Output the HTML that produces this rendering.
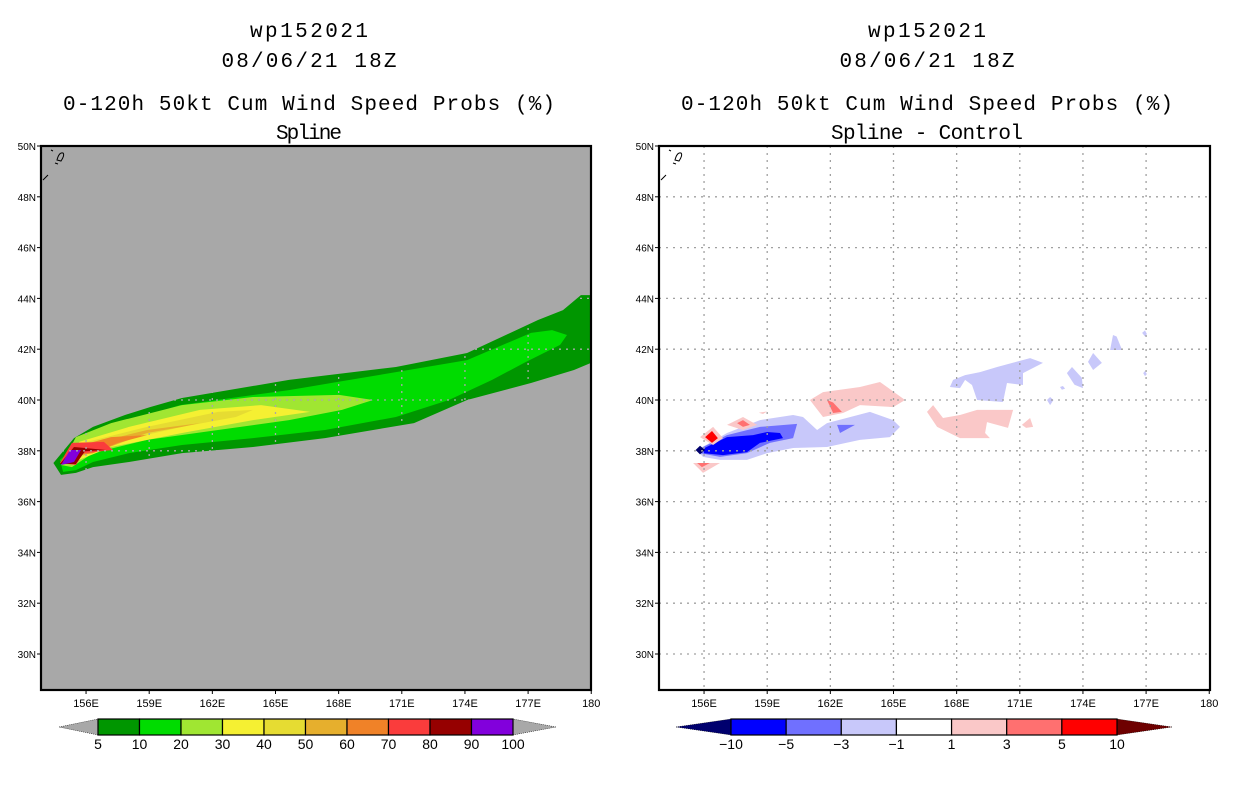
<!DOCTYPE html>
<html><head><meta charset="utf-8"><style>
html,body{margin:0;padding:0;background:#fff;}
svg{display:block;font-family:"Liberation Mono",monospace;}
</style></head><body>
<svg id="fig" width="1236" height="800" viewBox="0 0 1236 800" xmlns="http://www.w3.org/2000/svg">
<g id="titles"></g>
<defs>
<clipPath id="clipL"><rect x="41" y="146" width="550" height="544"/></clipPath>
<clipPath id="clipR"><rect x="659" y="146" width="551" height="544"/></clipPath>
</defs>
<g id="panelL"></g>
<g id="panelR"></g>
<g id="cbL"></g>
<g id="cbR"></g>
</svg>
<script>
// ---- data ----
const lonTicks = [156,159,162,165,168,171,174,177,180];
const lonTickLabels = ["156E","159E","162E","165E","168E","171E","174E","177E","180"];
const latTicks = [30,32,34,36,38,40,42,44,46,48,50];
const latTickLabels = ["30N","32N","34N","36N","38N","40N","42N","44N","46N","48N","50N"];
const probLevels = ["5","10","20","30","40","50","60","70","80","90","100"];
const probColors = ["#009600","#00dc00","#a0e632","#f5f032","#e6dc32","#e6af2d","#f08228","#fa3c3c","#960000","#8200dc"];
const diffLevels = ["-10","-5","-3","-1","1","3","5","10"];
const diffColors = ["#0000ff","#7070ff","#c8c8fa","#ffffff","#fac8c8","#ff7070","#ff0000"];
const diffLowColor = "#00006e", diffHighColor = "#6e0000";

// probability contour polygons: [colorIndex, lon,lat,...]
const prob5 = [0, 154.45,37.52,155.43,38.50,156.33,38.94,157.85,39.41,159.04,39.72,160.56,40.08,165.64,40.79,170.72,41.30,174.10,41.85,177.47,43.15,178.66,43.54,179.51,44.13,180.3,44.13,180.3,41.57,179.18,41.18,177.14,40.67,174.10,40.0,171.58,39.09,167.35,38.50,163.93,38.15,160.56,37.91,158.04,37.56,156.33,37.36,155.52,37.13,154.81,37.05];
const prob10 = [1, 154.76,37.64,155.62,38.27,156.52,38.70,158.09,39.21,160.46,39.80,165.64,40.39,170.72,41.10,174.10,41.57,177.14,42.64,178.14,42.75,178.85,42.56,178.52,42.17,176.81,41.46,175.29,40.79,173.24,40.0,170.72,39.33,167.35,38.82,163.93,38.50,160.56,38.23,158.04,37.91,156.33,37.56,155.52,37.24,154.91,37.17];
const prob20 = [2, 155.52,38.54,157.19,39.09,160.56,39.80,163.93,40.12,168.02,40.20,169.63,40.0,168.16,39.61,165.64,39.21,162.27,38.82,158.90,38.43,156.33,37.91,155.33,37.36,154.81,37.44];
const prob30 = [3, 155.67,38.35,158.04,38.94,161.41,39.61,164.31,39.80,166.64,39.53,163.93,39.21,160.56,38.70,157.19,38.15,155.67,37.64,155.2,37.6];
const prob40 = [4, 155.86,38.31,158.90,38.94,162.27,39.53,163.93,39.61,163.12,39.33,160.56,38.94,157.19,38.31,155.67,37.72];
const prob50 = [5, 156.0,38.23,158.90,38.82,161.41,39.09,160.56,38.94,158.90,38.70,156.33,37.91,155.9,37.85];
const prob60 = [6, 156.19,38.31,157.19,38.54,158.90,38.62,157.52,38.31,156.33,37.91,155.67,37.83];
const prob70 = [7, 155.33,38.31,156.85,38.35,157.28,38.03,155.86,37.91,155.52,37.44,154.76,37.52];
const prob80 = [8, 155.43,38.15,156.95,38.03,155.95,37.98,155.52,37.48,154.76,37.48];
const prob90 = [9, 155.24,38.03,155.76,38.03,155.43,37.56,154.81,37.44];
const probPolys = [prob5,prob10,prob20,prob30,prob40,prob50,prob60,prob70,prob80,prob90];

// difference contour polygons: [colorIndex(-1=low,7=high), lon,lat,...]
const diffA = [2, 155.67,38.03,156.28,38.31,157.09,38.70,158.66,39.21,160.23,39.41,160.70,39.33,161.37,38.82,161.84,39.09,163.88,39.53,164.98,39.21,165.31,38.94,164.83,38.54,163.41,38.43,161.84,38.15,160.23,38.11,159.0,37.91,158.04,37.64,156.76,37.64,155.95,37.76];
const diffB = [2, 167.68,40.51,167.83,40.79,168.40,40.98,169.11,41.10,169.92,41.30,171.49,41.65,172.10,41.46,171.15,41.06,171.15,40.59,170.39,40.67,170.20,39.92,168.97,40.0,168.73,40.59,168.40,40.79,168.16,40.47];
const diffC = [2, 173.24,41.06,173.48,41.30,173.95,40.87,174.0,40.47,173.6,40.6];
const diffD = [2, 174.24,41.50,174.48,41.85,174.90,41.46,174.48,41.18];
const diffE = [2, 175.29,41.97,175.43,42.56,175.6,42.5,175.86,41.97];
const diffF = [2, 176.81,42.64,176.95,42.74,177.04,42.60,176.95,42.50];
const diffG = [2, 176.86,41.06,176.95,41.14,177.04,41.02,176.95,40.94];
const diffH = [2, 172.29,40.0,172.44,40.12,172.6,40.0,172.44,39.80];
const diffI = [2, 172.91,40.51,173.05,40.55,173.15,40.45,173.0,40.40];
const diffJ = [1, 155.95,38.15,157.09,38.62,158.66,38.94,160.42,39.06,160.23,38.50,159.13,38.31,158.04,37.91,156.76,37.76,155.81,37.91];
const diffK = [1, 162.32,39.02,163.17,39.02,162.46,38.70];
const diffL = [0, 156.0,38.1,157.09,38.54,158.33,38.62,159.0,38.74,159.61,38.70,159.75,38.50,158.66,38.31,158.04,37.95,156.90,37.83,156.0,37.9];
const diffM = [-1, 155.6,38.03,155.81,38.2,156.05,38.03,155.81,37.86];
const diffN = [4, 161.03,40.0,161.65,40.31,163.41,40.51,164.36,40.71,165.55,40.0,164.98,39.72,163.41,39.80,162.60,39.49,161.65,39.33];
const diffO = [4, 166.59,39.53,166.88,39.80,167.35,39.29,168.16,39.41,168.97,39.61,170.68,39.61,170.44,38.90,169.44,39.13,169.35,38.70,169.58,38.50,168.16,38.50,167.07,38.94];
const diffP = [4, 171.10,39.02,171.49,39.29,171.63,38.94,171.3,38.9];
const diffQ = [4, 157.09,39.02,157.85,39.33,158.52,39.02,157.85,38.82];
const diffR = [4, 155.81,38.54,156.43,38.94,156.90,38.50,156.43,38.23];
const diffS = [4, 155.48,37.52,156.76,37.52,155.95,37.13];
const diffT = [4, 158.6,39.50,159.0,39.55,158.8,39.45];
const diffU = [5, 161.84,40.0,162.13,39.9,162.55,39.53,162.13,39.49];
const diffV = [5, 157.57,39.09,157.85,39.21,158.18,39.02,157.85,38.94];
const diffW = [5, 155.67,37.52,156.28,37.52,155.90,37.36];
const diffX = [6, 156.05,38.54,156.38,38.78,156.66,38.50,156.38,38.31];
const diffPolys = [diffA,diffB,diffC,diffD,diffE,diffF,diffG,diffH,diffI,diffJ,diffK,diffL,diffM,diffN,diffO,diffP,diffQ,diffR,diffS,diffT,diffU,diffV,diffW,diffX];

// ---- drawing ----
const NS = "http://www.w3.org/2000/svg";
const LON0 = 153.86, PXDEG = 21.05, LAT_TOP = 50, PXLAT = 25.4, YTOP = 146, YBOT = 690;
function xScale(lon, left){ return left + (lon - LON0) * PXDEG; }
function yScale(lat){ return YTOP + (LAT_TOP - lat) * PXLAT; }
function mk(tag, attrs, parent){
  const e = document.createElementNS(NS, tag);
  for (const k in attrs) e.setAttribute(k, attrs[k]);
  parent.appendChild(e); return e;
}
function txt(str, x, y, size, anchor, parent, extra){
  const t = mk("text", Object.assign({x:x, y:y, "font-size":size, "text-anchor":anchor, fill:"#000"}, extra||{}), parent);
  t.textContent = str; return t;
}
const titles = document.getElementById("titles");
[[309,"L"],[927,"R"]].forEach(([cx,s])=>{
  const sub = s==="L" ? "Spline" : "Spline - Control";
  const subW = s==="L" ? 66 : 192;
  let t;
  t = txt("wp152021", cx, 37, 21, "middle", titles, {textLength:118});  
  t = txt("08/06/21 18Z", cx, 67, 21, "middle", titles, {textLength:175});  
  t = txt("0-120h 50kt Cum Wind Speed Probs (%)", cx, 110, 21, "middle", titles, {textLength:492});  
  t = txt(sub, cx, 139, 21, "middle", titles, {textLength:subW});  
});

function panel(gid, left, width, bg, polys, colorFor, clip, gridColor){
  const g = document.getElementById(gid);
  const bgr = mk("rect", {x:left, y:YTOP, width:width, height:YBOT-YTOP, fill:bg}, g);
  
  
  const cg = mk("g", {"clip-path":"url(#"+clip+")"}, g);
  polys.forEach(p=>{
    const pts = [];
    for (let i=1;i<p.length;i+=2) pts.push(xScale(p[i],left).toFixed(1)+","+yScale(p[i+1]).toFixed(1));
    const pg = mk("polygon", {points:pts.join(" "), fill:colorFor(p[0])}, cg);
    
    
  });
  lonTicks.forEach(lon=>{ if (lon<180){ const x=xScale(lon,left);
    const l = mk("line",{x1:x,y1:YTOP,x2:x,y2:YBOT,stroke:gridColor,"stroke-width":1.3,"stroke-dasharray":"2,5"},cg);
      }});
  latTicks.forEach(lat=>{ if (lat<50){ const y=yScale(lat);
    const l = mk("line",{x1:left,y1:y,x2:left+width,y2:y,stroke:gridColor,"stroke-width":1.3,"stroke-dasharray":"2,5"},cg);
      }});
  const cst = mk("path",{d:"M"+(left+2)+" 180 l5 -5 M"+(left+10)+" 150 l2 1 M"+(left+14)+" 163 l3 1 M"+(left+16)+" 160 q2 -8 6 -7 q2 2 -2 8 z",fill:"none",stroke:"#000","stroke-width":1},g);
   
  const fr = mk("rect",{x:left,y:YTOP,width:width,height:YBOT-YTOP,fill:"none",stroke:"#000","stroke-width":2.2},g);
   
  lonTicks.forEach((lon,i)=>{ const x=xScale(lon,left);
    mk("line",{x1:x,y1:YBOT,x2:x,y2:YBOT+4,stroke:"#000","stroke-width":1},g);
    const t = txt(lonTickLabels[i], x, YBOT+17, 11, "middle", g, {"font-family":"Liberation Sans, sans-serif"});
      });
  latTicks.forEach((lat,i)=>{ const y=yScale(lat);
    mk("line",{x1:left-4,y1:y,x2:left,y2:y,stroke:"#000","stroke-width":1},g);
    const t = txt(latTickLabels[i], left-5, y+4, 10, "end", g, {"font-family":"Liberation Sans, sans-serif"});
      });
}
panel("panelL", 41, 550, "#a8a8a8", probPolys, i=>probColors[i], "clipL", "#a8a8a8");
panel("panelR", 659, 551, "#ffffff", diffPolys, i=> i<0?diffLowColor:(i>=7?diffHighColor:diffColors[i]), "clipR", "#a0a0a0");

function colorbar(gid, x0, x1, tipL, tipR, colors, labels, lowC, highC){
  const g = document.getElementById(gid);
  const y0=719, y1=735, ym=727, w=(x1-x0)/colors.length;
  const a = mk("polygon",{points:tipL+","+ym+" "+x0+","+y0+" "+x0+","+y1,fill:lowC,stroke:"#000","stroke-width":0.5,"stroke-dasharray":"1,1"},g);
   
  const b = mk("polygon",{points:tipR+","+ym+" "+x1+","+y0+" "+x1+","+y1,fill:highC,stroke:"#000","stroke-width":0.5,"stroke-dasharray":"1,1"},g);
   
  colors.forEach((c,i)=>{
    const r = mk("rect",{x:x0+i*w,y:y0,width:w,height:y1-y0,fill:c,stroke:"#000","stroke-width":1.2},g);
     
  });
  labels.forEach((l,i)=>{
    const t = txt(l.replace("-","\u2212"), x0+i*w, 749, 14, "middle", g, {"font-family":"Liberation Sans, sans-serif"});
     
  });
}
colorbar("cbL", 98, 513, 59, 556, probColors, probLevels, "#a8a8a8", "#a8a8a8");
colorbar("cbR", 731, 1117, 676, 1172, diffColors, diffLevels, diffLowColor, diffHighColor);
</script>
</body></html>
